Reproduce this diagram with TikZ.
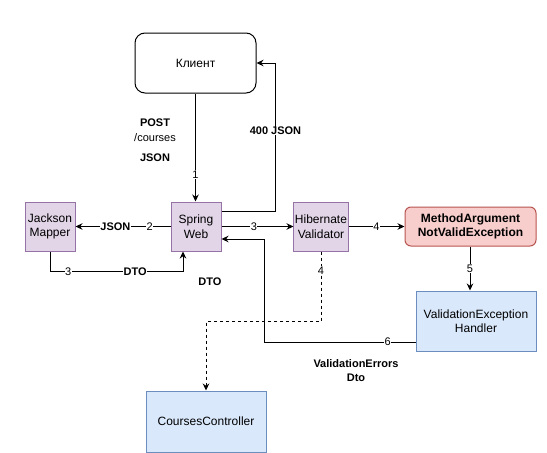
\documentclass[tikz,border=0pt]{standalone}
\usepackage{fontspec}
\setmainfont{Liberation Sans}
\usetikzlibrary{arrows.meta}
\definecolor{purplefill}{HTML}{E1D5E7}
\definecolor{purpleline}{HTML}{9673A6}
\definecolor{redfill}{HTML}{F8CECC}
\definecolor{redline}{HTML}{B85450}
\definecolor{bluefill}{HTML}{DAE8FC}
\definecolor{blueline}{HTML}{6C8EBF}

\begin{document}
\begin{tikzpicture}[x=1pt,y=-1pt,line width=1pt,
  box/.style={draw,align=center,inner sep=1pt,font=\fontsize{12}{14.5}\selectfont},
  purplebox/.style={box,fill=purplefill,draw=purpleline,minimum width=50pt,minimum height=49pt},
  bluebox/.style={box,fill=bluefill,draw=blueline,minimum width=120pt,minimum height=60pt},
  arr/.style={-{Stealth[length=7pt,width=6.5pt]}},
  lbl/.style={fill=white,inner sep=0.5pt,font=\fontsize{11}{13}\selectfont},
  boldlbl/.style={lbl,font=\fontsize{11}{14}\selectfont\bfseries,align=center}]
\fill[white] (0,0) rectangle (547,453);
\useasboundingbox (0,0) rectangle (547,453);
\node[box,rounded corners=10pt,minimum width=121pt,minimum height=60pt] (client) at (195.5,63) {Клиент};
\node[purplebox] (jackson) at (50,226.5) {Jackson\\Mapper};
\node[purplebox] (spring) at (196,226.5) {Spring\\Web};
\node[purplebox] (hibernate) at (321,226.5) {Hibernate\\Validator};
\node[box,rounded corners=6pt,fill=redfill,draw=redline,minimum width=131pt,minimum height=39pt,font=\fontsize{12}{14.5}\selectfont\bfseries] (method) at (470.5,226.5) {MethodArgument\\NotValidException};
\node[bluebox] (handler) at (476,321) {ValidationException\\Handler};
\node[bluebox,minimum height=61pt] (courses) at (206,421.5) {CoursesController};
\node[boldlbl] (post) at (155,123) {POST};
\node[lbl] (path) at (155,138) {/courses};
\node[boldlbl] (json) at (155,158) {JSON};
\node[boldlbl] (dto) at (210,282) {DTO};
\node[boldlbl] (errors) at (356,370.5) {ValidationErrors\\Dto};
\draw[arr] (client.south) -- node[lbl,pos=0.75]{1} (client.south |- spring.north);
\draw[arr] ([yshift=15.5pt]spring.east) -- ++(54,0) |- node[boldlbl,pos=0.27]{400 JSON} (client.east);
\draw[arr] (spring.west) -- node[lbl,pos=0.22]{2} node[boldlbl,pos=0.58]{JSON} (jackson.east);
\draw[arr] (jackson.south) -- ++(0,20) -| node[lbl,pos=0.068]{3} node[boldlbl,pos=0.32]{DTO} ([xshift=-13pt]spring.south);
\draw[arr] (spring.east) -- node[lbl,pos=0.45]{3} (hibernate.west);
\draw[arr] (hibernate.east) -- node[lbl]{4} (method.west);
\draw[arr] ([xshift=-0.5pt]method.south) -- node[lbl]{5} ([xshift=-0.5pt]method.south |- handler.north);
\draw[arr] ([yshift=-21pt]handler.west) -- node[lbl,pos=0.185]{6} ++(-151,0) |- ([yshift=-12.5pt]spring.east);
\draw[arr,dash pattern=on 3pt off 3pt] (hibernate.south) -- node[lbl,pos=0.27]{4} ++(0,70) -| (courses.north);
\end{tikzpicture}
\end{document}
